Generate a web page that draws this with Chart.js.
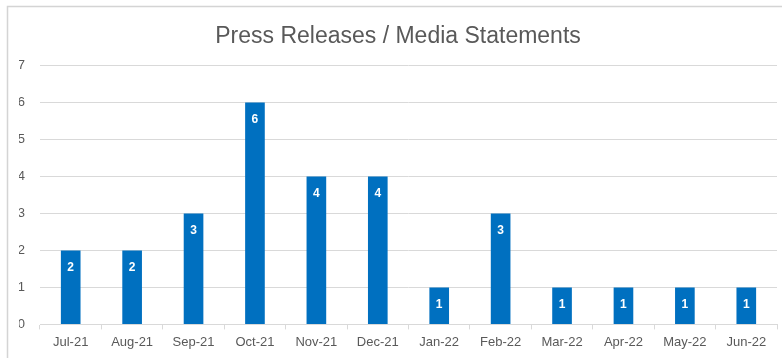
<!DOCTYPE html>
<html>
<head>
<meta charset="utf-8">
<title>Press Releases / Media Statements</title>
<script src="https://cdn.jsdelivr.net/npm/chart.js@4"></script>
<style>
    html, body { margin: 0; padding: 0; background: #fff; }
    #wrap { position: relative; width: 782px; height: 358px; }
</style>
</head>
<body>
<div id="wrap">
    <canvas id="pressChart" width="782" height="358"></canvas>
</div>
<script>
// Monthly counts
const months = ['Jul-21', 'Aug-21', 'Sep-21', 'Oct-21', 'Nov-21', 'Dec-21',
                'Jan-22', 'Feb-22', 'Mar-22', 'Apr-22', 'May-22', 'Jun-22'];
const releases = [2, 2, 3, 6, 4, 4, 1, 3, 1, 1, 1, 1];
const yTicks = [0, 1, 2, 3, 4, 5, 6, 7];

const textGrey = '#595959';
const lineGrey = '#d9d9d9';

// Frame around the chart (only top and left edges fall inside the canvas)
const framePlugin = {
    id: 'frame',
    beforeDraw(chart) {
        const ctx = chart.ctx;
        ctx.save();
        ctx.fillStyle = '#fff';
        ctx.fillRect(0, 0, chart.width, chart.height);
        ctx.strokeStyle = '#d4d4d4';
        ctx.lineWidth = 1.5;
        ctx.beginPath();
        ctx.moveTo(7.5, chart.height);
        ctx.lineTo(7.5, 6.5);
        ctx.lineTo(chart.width, 6.5);
        ctx.stroke();
        ctx.restore();
    }
};

// White value labels just inside the top of each bar
const barLabels = {
    id: 'barLabels',
    afterDatasetsDraw(chart) {
        const ctx = chart.ctx;
        const meta = chart.getDatasetMeta(0);
        ctx.save();
        ctx.fillStyle = '#fff';
        ctx.font = 'bold 12px "Liberation Sans", Arial, sans-serif';
        ctx.textAlign = 'center';
        ctx.textBaseline = 'middle';
        meta.data.forEach((bar, i) => {
            ctx.fillText(String(releases[i]), bar.x, bar.y + 17);
        });
        ctx.restore();
    }
};

const ctx = document.getElementById('pressChart').getContext('2d');
new Chart(ctx, {
    type: 'bar',
    data: {
        labels: months,
        datasets: [{
            data: releases,
            backgroundColor: '#0070c0',
            borderWidth: 0,
            barPercentage: 0.32,
            categoryPercentage: 1
        }]
    },
    options: {
        responsive: false,
        animation: false,
        layout: {
            padding: { left: 19, right: 5, top: 0, bottom: 3 }
        },
        plugins: {
            legend: { display: false },
            tooltip: { enabled: false },
            title: {
                display: true,
                text: 'Press Releases / Media Statements',
                color: textGrey,
                font: { family: '"Liberation Sans", Arial, sans-serif', size: 23, weight: 'normal' },
                padding: { top: 23, bottom: 15 }
            }
        },
        scales: {
            x: {
                grid: {
                    offset: true,
                    drawOnChartArea: false,
                    drawTicks: true,
                    tickLength: 5,
                    color: lineGrey
                },
                border: { color: lineGrey },
                ticks: {
                    color: textGrey,
                    padding: 5,
                    maxRotation: 0,
                    font: { family: '"Liberation Sans", Arial, sans-serif', size: 13 }
                }
            },
            y: {
                min: yTicks[0],
                max: yTicks[yTicks.length - 1],
                afterFit(scale) { scale.width = 21; },
                afterBuildTicks(scale) {
                    scale.ticks = yTicks.map(v => ({ value: v }));
                },
                grid: { color: lineGrey, drawTicks: false },
                border: { display: false },
                ticks: {
                    color: textGrey,
                    padding: 15,
                    font: { family: '"Liberation Sans", Arial, sans-serif', size: 13 }
                }
            }
        }
    },
    plugins: [framePlugin, barLabels]
});
</script>
</body>
</html>
